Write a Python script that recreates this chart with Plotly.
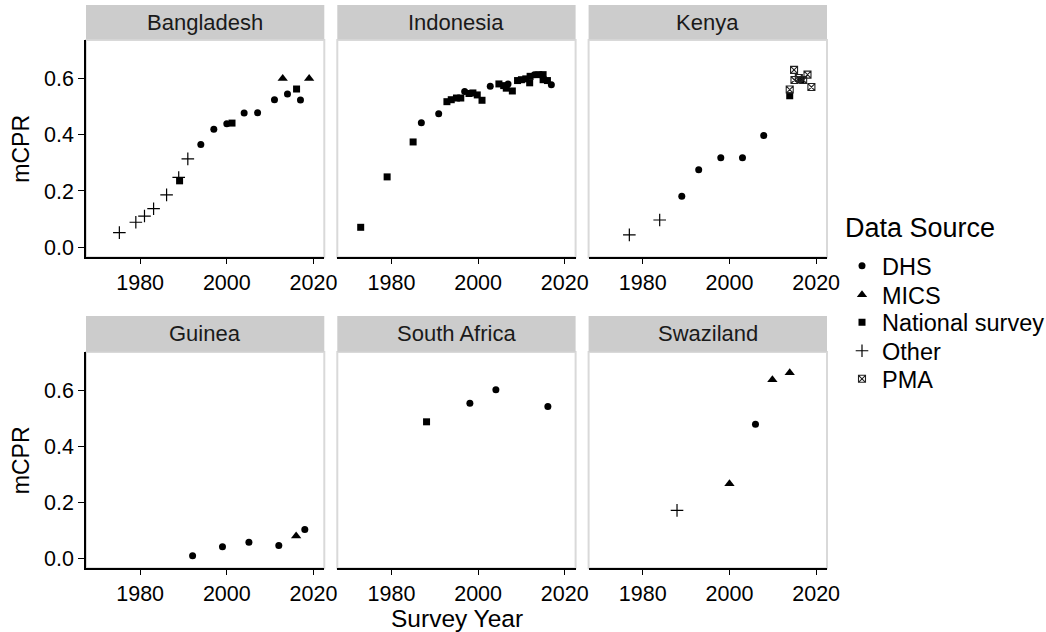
import plotly.graph_objects as go

# ---------------- data ----------------
countries = ["Bangladesh", "Indonesia", "Kenya", "Guinea", "South Africa", "Swaziland"]
sources = ["DHS", "MICS", "National survey", "Other", "PMA"]

bangladesh_year = [1975.2, 1979.0, 1981.0, 1983.1, 1986.1, 1988.9, 1989.1, 1991.0, 1994.0, 1997.0,
                   2000.0, 2001.2, 2004.0, 2007.1, 2011.0, 2014.0, 2012.9, 2016.1, 2017.0, 2019.0]
bangladesh_mcpr = [0.052, 0.089, 0.111, 0.137, 0.186, 0.248, 0.236, 0.314, 0.365, 0.419,
                   0.439, 0.441, 0.477, 0.478, 0.524, 0.544, 0.599, 0.562, 0.523, 0.599]
bangladesh_source = ["Other", "Other", "Other", "Other", "Other", "Other", "National survey", "Other",
                     "DHS", "DHS", "DHS", "National survey", "DHS", "DHS", "DHS", "DHS", "MICS",
                     "National survey", "DHS", "MICS"]

indonesia_year = [1972.9, 1979.0, 1985.0, 1986.9, 1990.9, 1992.8, 1993.8, 1995.0, 1996.0, 1996.9,
                  1997.9, 1998.8, 1999.8, 2000.9, 2002.8, 2004.8, 2005.9, 2006.9, 2006.5, 2007.9,
                  2009.1, 2010.0, 2011.0, 2011.9, 2012.0, 2013.0, 2014.0, 2015.0, 2015.0, 2016.0, 2016.9]
indonesia_mcpr = [0.071, 0.250, 0.374, 0.442, 0.474, 0.517, 0.524, 0.530, 0.530, 0.553,
                  0.546, 0.548, 0.541, 0.522, 0.572, 0.580, 0.574, 0.580, 0.565, 0.555,
                  0.592, 0.595, 0.598, 0.584, 0.607, 0.613, 0.613, 0.613, 0.595, 0.592, 0.577]
indonesia_source = ["National survey", "National survey", "National survey", "DHS", "DHS",
                    "National survey", "National survey", "National survey", "National survey", "DHS",
                    "National survey", "National survey", "National survey", "National survey", "DHS",
                    "National survey", "National survey", "DHS", "National survey", "National survey",
                    "National survey", "National survey", "National survey", "National survey",
                    "National survey", "DHS", "National survey", "National survey", "National survey",
                    "National survey", "DHS"]

kenya_year = [1976.9, 1983.9, 1989.0, 1992.9, 1998.0, 2003.0, 2007.9, 2013.9, 2013.9, 2014.9,
              2015.0, 2016.0, 2016.5, 2017.0, 2018.0, 2018.9]
kenya_mcpr = [0.044, 0.097, 0.181, 0.275, 0.318, 0.318, 0.397, 0.538, 0.560, 0.630,
              0.594, 0.601, 0.595, 0.594, 0.613, 0.569]
kenya_source = ["Other", "Other", "DHS", "DHS", "DHS", "DHS", "DHS", "National survey", "PMA", "PMA",
                "PMA", "PMA", "National survey", "PMA", "PMA", "PMA"]

guinea_year = [1992.1, 1999.0, 2005.1, 2012.0, 2016.0, 2018.0]
guinea_mcpr = [0.009, 0.041, 0.057, 0.046, 0.080, 0.103]
guinea_source = ["DHS", "DHS", "DHS", "DHS", "MICS", "DHS"]

south_africa_year = [1988.1, 1998.1, 2004.1, 2016.1]
south_africa_mcpr = [0.487, 0.553, 0.601, 0.542]
south_africa_source = ["National survey", "DHS", "DHS", "DHS"]

swaziland_year = [1987.9, 2000.0, 2006.0, 2009.9, 2013.9]
swaziland_mcpr = [0.171, 0.266, 0.478, 0.637, 0.662]
swaziland_source = ["Other", "MICS", "DHS", "MICS", "MICS"]

x_ticks = [1980, 2000, 2020]
y_ticks = [0.0, 0.2, 0.4, 0.6]
y_tick_labels = ["0.0", "0.2", "0.4", "0.6"]

country_data = {
    "Bangladesh": (bangladesh_year, bangladesh_mcpr, bangladesh_source),
    "Indonesia": (indonesia_year, indonesia_mcpr, indonesia_source),
    "Kenya": (kenya_year, kenya_mcpr, kenya_source),
    "Guinea": (guinea_year, guinea_mcpr, guinea_source),
    "South Africa": (south_africa_year, south_africa_mcpr, south_africa_source),
    "Swaziland": (swaziland_year, swaziland_mcpr, swaziland_source),
}

# ---------------- style ----------------
W, H = 1046, 632
FONT = "Liberation Sans, Arial, Helvetica, sans-serif"
marker_style = {
    "DHS": dict(symbol="circle", size=7, color="black"),
    "MICS": dict(symbol="triangle-up", size=9, color="black"),
    "National survey": dict(symbol="square", size=7, color="black"),
    "Other": dict(symbol="cross-thin-open", size=9, color="black", line=dict(width=1.2, color="black")),
    "PMA": dict(symbol="square-x-open", size=7, color="#222222", line=dict(width=1.1, color="#222222")),
}

# panel pixel boxes (window coordinates)
col_px = [(86.0, 324.3), (337.3, 575.6), (588.6, 827.0)]
row_px = [(40.0, 257.3), (352.0, 568.3)]
strip_px = [(5.0, 39.3), (316.0, 351.7)]
legend_item_px = [266, 295, 322.5, 351, 379]   # vertical centre of each legend key


def px_x(v):
    return v / W


def px_y(v):
    return 1 - v / H


fig = go.Figure()
layout = {}
shapes = []
annotations = []

for i, country in enumerate(countries):
    r, c = divmod(i, 3)
    n = i + 1
    xa = "xaxis" if n == 1 else f"xaxis{n}"
    ya = "yaxis" if n == 1 else f"yaxis{n}"
    xref = "x" if n == 1 else f"x{n}"
    yref = "y" if n == 1 else f"y{n}"
    x0, x1 = col_px[c]
    y0, y1 = row_px[r]
    layout[xa] = dict(
        domain=[px_x(x0), px_x(x1)], range=[1967.5, 2022.5], anchor=yref,
        tickvals=x_ticks, ticktext=[str(t) for t in x_ticks], ticks="outside", ticklen=5,
        tickwidth=1.2, tickcolor="black", showline=True, linecolor="black", linewidth=1.6,
        showgrid=False, zeroline=False, tickfont=dict(size=21.5, color="black", family=FONT),
    )
    layout[ya] = dict(
        domain=[px_y(y1), px_y(y0)], range=[-0.0355, 0.736], anchor=xref,
        tickvals=y_ticks, ticktext=y_tick_labels, showgrid=False, zeroline=False,
        showticklabels=(c == 0), ticks="outside" if c == 0 else "", ticklen=6, tickwidth=1.2,
        tickcolor="black", showline=(c == 0), linecolor="black", linewidth=1.6,
        tickfont=dict(size=21.5, color="black", family=FONT),
    )
    # panel border
    shapes.append(dict(type="rect", xref="paper", yref="paper", x0=px_x(x0), x1=px_x(x1),
                       y0=px_y(y1), y1=px_y(y0), line=dict(color="#d9d9d9", width=2),
                       fillcolor="rgba(0,0,0,0)", layer="below"))
    # strip
    s0, s1 = strip_px[r]
    shapes.append(dict(type="rect", xref="paper", yref="paper", x0=px_x(x0), x1=px_x(x1),
                       y0=px_y(s1), y1=px_y(s0), line=dict(width=0), fillcolor="#cccccc",
                       layer="below"))
    annotations.append(dict(text=country, xref="paper", yref="paper",
                            x=px_x((x0 + x1) / 2), y=px_y((s0 + s1) / 2),
                            showarrow=False, xanchor="center", yanchor="middle",
                            font=dict(size=22, color="#1a1a1a", family=FONT)))

legend_names = ["legend", "legend2", "legend3", "legend4", "legend5"]
for k, src in enumerate(sources):
    first = True
    for i, country in enumerate(countries):
        n = i + 1
        yrs, vals, srcs = country_data[country]
        xs = [y for y, s in zip(yrs, srcs) if s == src]
        ys = [v for v, s in zip(vals, srcs) if s == src]
        if not xs:
            continue
        fig.add_trace(go.Scatter(
            x=xs, y=ys, mode="markers", name=src, legendgroup=src, showlegend=first,
            legend=legend_names[k], marker=marker_style[src],
            xaxis="x" if n == 1 else f"x{n}", yaxis="y" if n == 1 else f"y{n}",
            cliponaxis=False,
        ))
        first = False
    layout[legend_names[k]] = dict(
        x=px_x(842), y=px_y(legend_item_px[k]), xanchor="left", yanchor="middle",
        font=dict(size=23.5, family=FONT, color="black"), bgcolor="rgba(0,0,0,0)",
        itemsizing="trace", tracegroupgap=0,
    )

annotations.append(dict(text="Data Source", xref="paper", yref="paper", x=px_x(843), y=px_y(228),
                        showarrow=False, xanchor="left", yanchor="middle",
                        font=dict(size=27, color="black", family=FONT)))
for r in range(2):
    annotations.append(dict(text="mCPR", xref="paper", yref="paper", x=px_x(21),
                            y=px_y(sum(row_px[r]) / 2), textangle=-90, showarrow=False,
                            xanchor="center", yanchor="middle",
                            font=dict(size=23, color="black", family=FONT)))
annotations.append(dict(text="Survey Year", xref="paper", yref="paper", x=px_x((86 + 827) / 2),
                        y=px_y(618), showarrow=False, xanchor="center", yanchor="middle",
                        font=dict(size=24.5, color="black", family=FONT)))

fig.update_layout(
    width=W, height=H, autosize=False,
    margin=dict(l=0, r=0, t=0, b=0, autoexpand=False),
    paper_bgcolor="white", plot_bgcolor="white",
    font=dict(family=FONT, color="black"),
    shapes=shapes, annotations=annotations,
    **layout,
)

# remove the default 8px page margin and scrollbars so the figure sits at the window's corner
fig.write_html(
    "out.html",
    config={"displayModeBar": False, "responsive": False},
    post_script="document.body.style.margin='0px';document.body.style.overflow='hidden';",
)
